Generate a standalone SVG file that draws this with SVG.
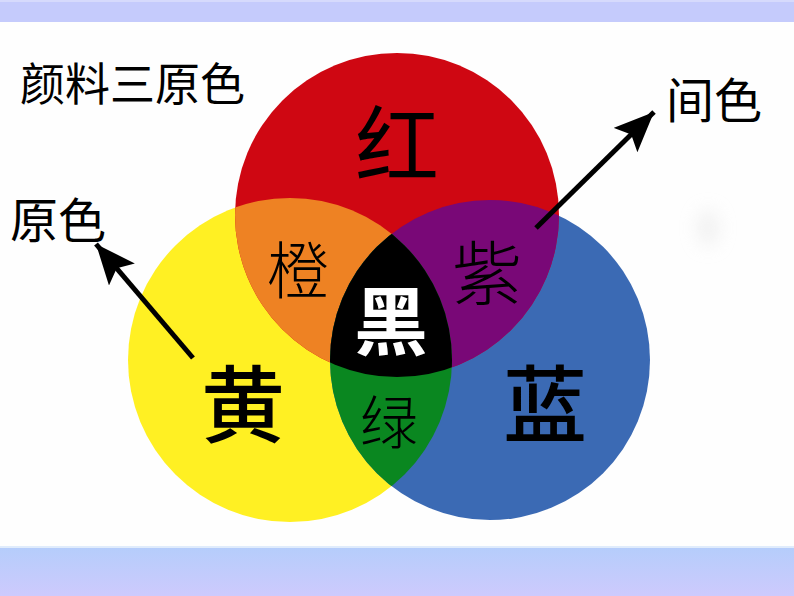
<svg xmlns="http://www.w3.org/2000/svg" width="794" height="596" viewBox="0 0 794 596">
<defs>
<style>
.t{font-family:"Noto Sans CJK SC","Noto Sans CJK JP",sans-serif;fill:#000;}
.m{text-anchor:middle;}
.arr{stroke:#000;stroke-width:5;fill:none;marker-end:url(#ah);}
</style>
<linearGradient id="bot" x1="0" y1="0" x2="0" y2="1">
<stop offset="0" stop-color="#b5cdfb"/>
<stop offset="1" stop-color="#cdcafd"/>
</linearGradient>
<clipPath id="cR"><circle cx="397" cy="215" r="162"/></clipPath>
<clipPath id="cY"><circle cx="290" cy="360" r="162"/></clipPath>
<clipPath id="cB"><circle cx="490" cy="360" r="160"/></clipPath>
<marker id="ah" markerUnits="userSpaceOnUse" markerWidth="50" markerHeight="50" refX="40" refY="17" orient="auto">
<path d="M0,0 L40,17 L0,34 L8,17 Z" fill="#000"/>
</marker>
<filter id="blur" x="-1" y="-1" width="3" height="3"><feGaussianBlur stdDeviation="9"/></filter>
</defs>
<rect width="794" height="596" fill="#fefefe"/>
<rect x="0" y="0" width="794" height="22" fill="#c5cbfc"/>
<rect x="0" y="0" width="794" height="2" fill="#d6dafc"/>
<rect x="0" y="546" width="794" height="2" fill="#e0ecfc"/>
<rect x="0" y="548" width="794" height="48" fill="url(#bot)"/>
<ellipse cx="708" cy="228" rx="10" ry="18" fill="#e2e2e2" filter="url(#blur)" opacity="0.5"/>

<g id="circle-yellow"><circle cx="290" cy="360" r="162" fill="#fff023"/></g>
<g id="circle-blue"><circle cx="490" cy="360" r="160" fill="#3b6ab4"/></g>
<g id="circle-red"><circle cx="397" cy="215" r="162" fill="#cf0712"/></g>
<g id="overlap-orange"><g clip-path="url(#cR)"><circle cx="290" cy="360" r="162" fill="#ee8223"/></g></g>
<g id="overlap-purple"><g clip-path="url(#cR)"><circle cx="490" cy="360" r="160" fill="#790877"/></g></g>
<g id="overlap-green"><g clip-path="url(#cY)"><circle cx="490" cy="360" r="160" fill="#0a8720"/></g></g>
<g id="overlap-black"><g clip-path="url(#cR)"><g clip-path="url(#cY)"><circle cx="490" cy="360" r="160" fill="#000"/></g></g></g>

<g id="labels">
<text class="t m" x="397" y="176" font-size="84">红</text>
<text class="t m" x="243" y="436" font-size="84" font-weight="500">黄</text>
<text class="t m" x="545" y="436" font-size="84" font-weight="500">蓝</text>
<text class="t m" x="298" y="294" font-size="62" font-weight="300">橙</text>
<text class="t m" x="487" y="300" font-size="70" font-weight="300">紫</text>
<text class="t m" x="389" y="444" font-size="58" font-weight="300">绿</text>
<text class="t m" x="391" y="349" font-size="74" font-weight="bold" style="fill:#fff">黑</text>
</g>
<g id="title"><text class="t" x="20" y="101" font-size="45">颜料三原色</text></g>
<g id="label-primary"><text class="t" x="10" y="238" font-size="48">原色</text></g>
<g id="label-secondary"><text class="t" x="666" y="118" font-size="48">间色</text></g>

<g id="connectors">
<line class="arr" x1="193" y1="358" x2="96" y2="244"/>
<line class="arr" x1="536" y1="228" x2="654" y2="112"/>
</g>
</svg>
